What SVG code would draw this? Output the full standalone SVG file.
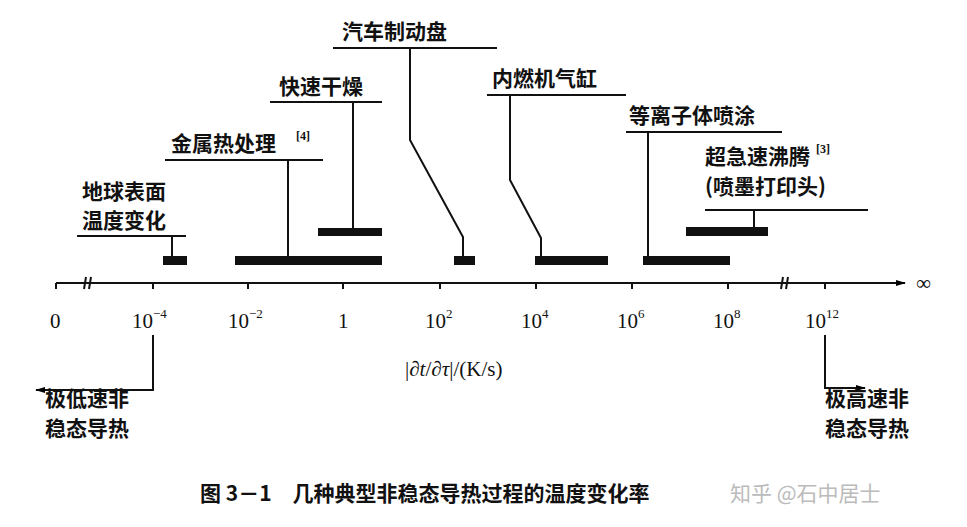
<svg xmlns="http://www.w3.org/2000/svg" width="967" height="527" viewBox="0 0 967 527">
<defs>
<marker id="ah" markerWidth="10" markerHeight="8" refX="9" refY="4" orient="auto" markerUnits="userSpaceOnUse"><path d="M0,1 L10,4 L0,7 Z" fill="#000"/></marker>
</defs>
<style>
.t{font-family:"Noto Sans CJK SC","Noto Sans CJK JP",sans-serif;font-size:21px;font-weight:bold;fill:#111}
.n{font-family:"Liberation Serif",serif;font-size:21px;fill:#111}
.s{font-family:"Liberation Serif",serif;font-size:12px;font-weight:bold;fill:#111}
.l{stroke:#111;stroke-width:2;fill:none}
.b{fill:#111}
</style>
<rect width="967" height="527" fill="#fff"/>
<g id="axis">
<line class="l" x1="56" y1="283" x2="905" y2="283" marker-end="url(#ah)"/>
<line class="l" x1="56" y1="283" x2="56" y2="289"/>
<path class="l" d="M86,277 l-2,12 M91,277 l-2,12 M783,277 l-2,12 M788,277 l-2,12" stroke-width="1.5"/>
<path class="l" d="M153,283v6M248,283v6M343,283v6M440,283v6M536,283v6M632,283v6M728,283v6M825,283v6"/>
<text class="n" x="916" y="290" font-size="20">∞</text>
<text class="n" x="50" y="328">0</text>
<text class="n" x="132" y="328">10<tspan font-size="13" dy="-10">−4</tspan></text>
<text class="n" x="228" y="328">10<tspan font-size="13" dy="-10">−2</tspan></text>
<text class="n" x="338" y="328">1</text>
<text class="n" x="425" y="328">10<tspan font-size="13" dy="-10">2</tspan></text>
<text class="n" x="521" y="328">10<tspan font-size="13" dy="-10">4</tspan></text>
<text class="n" x="617" y="328">10<tspan font-size="13" dy="-10">6</tspan></text>
<text class="n" x="713" y="328">10<tspan font-size="13" dy="-10">8</tspan></text>
<text class="n" x="805" y="328">10<tspan font-size="13" dy="-10">12</tspan></text>
<text class="n" x="405" y="376" font-size="23">|<tspan font-style="italic">∂t</tspan>/<tspan font-style="italic">∂τ</tspan>|/(K/s)</text>
</g>
<g id="connectors">
<path class="l" d="M172,261V236 M77,236H186"/>
<path class="l" d="M288,261V160 M165,160H323"/>
<path class="l" d="M353,232V102 M270,102H382"/>
<path class="l" d="M463,260V237L410,140V48 M333,48H497" stroke-width="1.5"/>
<path class="l" d="M541,260V238L510,180V95 M487,95H626" stroke-width="1.5"/>
<path class="l" d="M648,260V132 M626,132H782"/>
<path class="l" d="M754,231V210 M705,210H868"/>
<path class="l" d="M153,335V390H36" marker-end="url(#ah)"/>
<path class="l" d="M825,335V388H865" marker-end="url(#ah)"/>
</g>
<g id="earth"><rect class="b" x="163" y="256" width="24" height="9"/><text class="t" x="82" y="199">地球表面</text><text class="t" x="82" y="228">温度变化</text></g>
<g id="metal"><rect class="b" x="235" y="256" width="147" height="9"/><text class="t" x="171" y="151">金属热处理</text><text class="s" x="296" y="140">[4]</text></g>
<g id="dry"><rect class="b" x="318" y="228" width="64" height="8"/><text class="t" x="279" y="94">快速干燥</text></g>
<g id="brake"><rect class="b" x="454" y="256" width="21" height="9"/><text class="t" x="342" y="39">汽车制动盘</text></g>
<g id="engine"><rect class="b" x="535" y="256" width="73" height="9"/><text class="t" x="492" y="86">内燃机气缸</text></g>
<g id="plasma"><rect class="b" x="643" y="256" width="87" height="9"/><text class="t" x="629" y="123">等离子体喷涂</text></g>
<g id="boil"><rect class="b" x="686" y="227" width="82" height="9"/><text class="t" x="705" y="164">超急速沸腾</text><text class="s" x="816" y="153">[3]</text><text class="t" x="705" y="194">(喷墨打印头)</text></g>
<g id="notes">
<text class="t" x="45" y="406">极低速非</text><text class="t" x="45" y="436">稳态导热</text>
<text class="t" x="825" y="406">极高速非</text><text class="t" x="825" y="436">稳态导热</text>
<text class="t" x="200" y="501" font-size="19">图 3－1　几种典型非稳态导热过程的温度变化率</text>
<text x="730" y="501" font-family="Noto Sans CJK SC,sans-serif" font-size="21" fill="#bbb">知乎 @石中居士</text>
</g>
</svg>
